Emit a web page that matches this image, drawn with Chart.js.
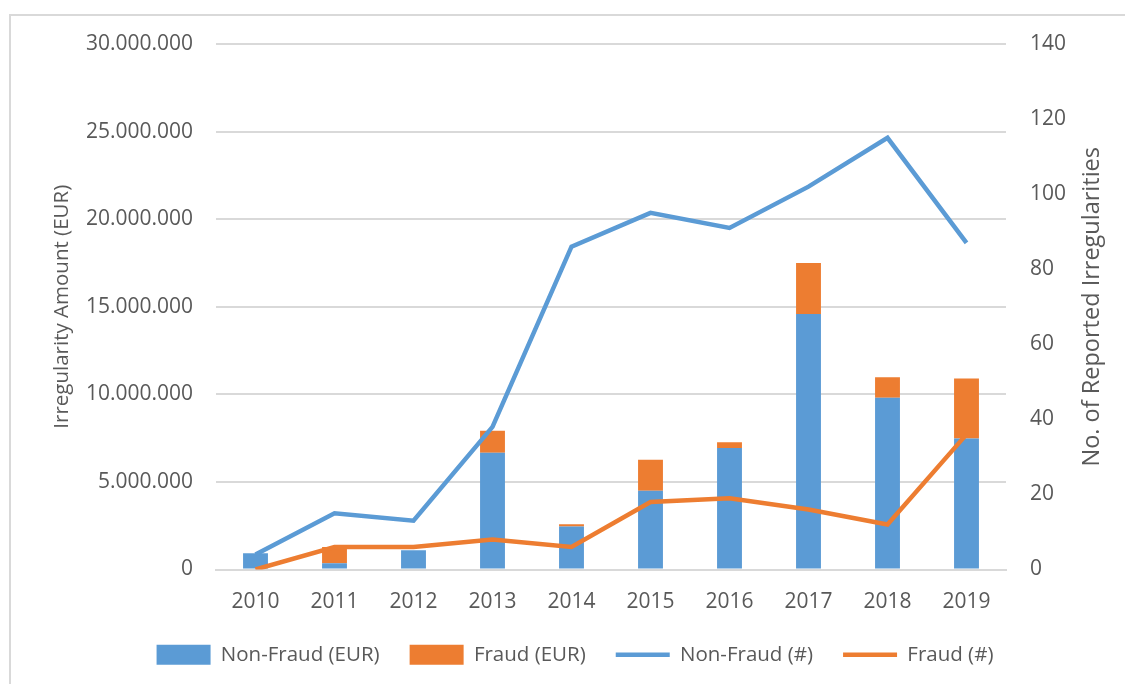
<!DOCTYPE html>
<html>
<head>
<meta charset="utf-8">
<script src="https://cdn.jsdelivr.net/npm/chart.js@4.4.1/dist/chart.umd.min.js"></script>
<style>
	html, body { margin: 0; padding: 0; background: #fff; overflow: hidden; }
	#wrap { position: relative; width: 1125px; height: 684px; }
	#frame { position: absolute; left: 9px; top: 14px; width: 1140px; height: 700px; border: 2px solid #d9d9d9; }
	#chart { position: absolute; left: 0; top: 0; }
</style>
</head>
<body>
<div id="wrap">
	<div id="frame"></div>
	<canvas id="chart" width="1125" height="684"></canvas>
</div>
<script>
const years = ['2010', '2011', '2012', '2013', '2014', '2015', '2016', '2017', '2018', '2019'];
const nonFraudEur = [930000, 360000, 1100000, 6660000, 2460000, 4500000, 6930000, 14580000, 9810000, 7480000];
const fraudEur = [0, 920000, 0, 1260000, 120000, 1760000, 340000, 2920000, 1160000, 3420000];
const nonFraudCount = [4, 15, 13, 38, 86, 95, 91, 102, 115, 87];
const fraudCount = [0, 6, 6, 8, 6, 18, 19, 16, 12, 36];

const blue = '#5b9bd5';
const orange = '#ed7d31';
const textColor = '#595959';
const fontFamily = '"Open Sans", Lato, sans-serif';

// axis titles, both read bottom-to-top like the original
const axisTitles = {
	id: 'axisTitles',
	afterDraw(chart) {
		const ctx = chart.ctx;
		const area = chart.chartArea;
		const midY = (area.top + area.bottom) / 2;
		ctx.save();
		ctx.fillStyle = textColor;
		ctx.textAlign = 'center';
		ctx.textBaseline = 'middle';
		const draw = (text, x, y, size) => {
			ctx.save();
			ctx.font = size + 'px ' + fontFamily;
			ctx.translate(x, y);
			ctx.rotate(-Math.PI / 2);
			ctx.fillText(text, 0, 0);
			ctx.restore();
		};
		draw('Irregularity Amount (EUR)', 62, midY, 20.5);
		draw('No. of Reported Irregularities', 1092, midY, 23.5);
		ctx.restore();
	},
};

const config = {
	type: 'bar',
	data: {
		labels: years,
		datasets: [
			{
				label: 'Non-Fraud (EUR)',
				data: nonFraudEur,
				backgroundColor: blue,
				yAxisID: 'y',
				stack: 'eur',
				order: 1,
			},
			{
				label: 'Fraud (EUR)',
				data: fraudEur,
				backgroundColor: orange,
				yAxisID: 'y',
				stack: 'eur',
				order: 1,
			},
			{
				type: 'line',
				label: 'Non-Fraud (#)',
				data: nonFraudCount,
				borderColor: blue,
				backgroundColor: blue,
				borderWidth: 4.5,
				pointRadius: 0,
				tension: 0,
				yAxisID: 'y1',
				order: 0,
			},
			{
				type: 'line',
				label: 'Fraud (#)',
				data: fraudCount,
				borderColor: orange,
				backgroundColor: orange,
				borderWidth: 4.5,
				pointRadius: 0,
				tension: 0,
				yAxisID: 'y1',
				order: 0,
			},
		],
	},
	options: {
		responsive: false,
		animation: false,
		layout: { padding: { left: 40, right: 15, top: 44, bottom: 9 } },
		datasets: {
			bar: { barPercentage: 1, categoryPercentage: 0.315 },
		},
		scales: {
			x: {
				stacked: true,
				afterFit: (scale) => { scale.height = 45; },
				grid: { display: false, drawTicks: false },
				border: { display: true, color: '#d9d9d9', width: 2 },
				ticks: { color: textColor, font: { family: fontFamily, size: 21 }, padding: 20 },
			},
			y: {
				stacked: true,
				position: 'left',
				min: 0,
				max: 30000000,
				afterFit: (scale) => { scale.width = 176; },
				grid: { color: '#d9d9d9', lineWidth: 2, drawTicks: false },
				border: { display: false },
				ticks: {
					stepSize: 5000000,
					color: textColor,
					padding: 23,
					font: { family: fontFamily, size: 21 },
					callback: (v) => v.toLocaleString('de-DE'),
				},
			},
			y1: {
				position: 'right',
				min: 0,
				max: 140,
				afterFit: (scale) => { scale.width = 104; },
				grid: { display: false, drawTicks: false },
				border: { display: false },
				ticks: {
					stepSize: 20,
					color: textColor,
					padding: 24,
					font: { family: fontFamily, size: 21 },
				},
			},
		},
		plugins: {
			tooltip: { enabled: false },
			legend: {
				position: 'bottom',
				labels: {
					color: textColor,
					font: { family: fontFamily, size: 20.5 },
					usePointStyle: true,
					pointStyleWidth: 54,
					boxHeight: 20,
					padding: 30,
					sort: (a, b) => a.datasetIndex - b.datasetIndex,
					generateLabels: (chart) => {
						const items = Chart.defaults.plugins.legend.labels.generateLabels(chart);
						items.forEach((item) => {
							const ds = chart.data.datasets[item.datasetIndex];
							item.pointStyle = ds.type === 'line' ? 'line' : 'rect';
							item.lineWidth = ds.type === 'line' ? 4.5 : 0;
							item.strokeStyle = ds.type === 'line' ? ds.borderColor : ds.backgroundColor;
						});
						return items;
					},
				},
			},
		},
	},
	plugins: [axisTitles],
};

function renderChart() {
	const chartCanvas = document.getElementById('chart');
	new Chart(chartCanvas, config);
}

renderChart();
</script>
</body>
</html>
